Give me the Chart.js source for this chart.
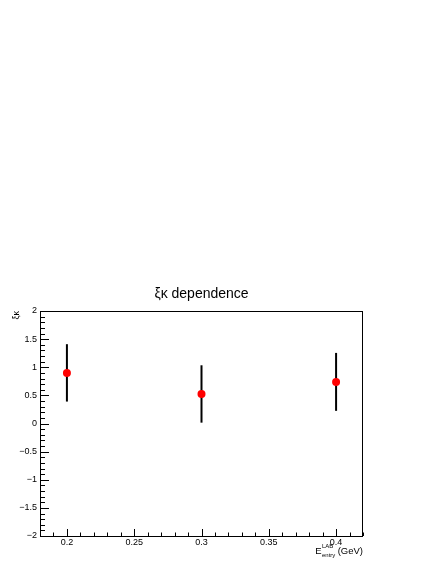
<!DOCTYPE html>
<html>
<head>
<meta charset="utf-8">
<script src="https://cdn.jsdelivr.net/npm/chart.js@4"></script>
<style>
  html, body { margin: 0; padding: 0; background: #fff; }
  canvas { display: block; }
</style>
</head>
<body>
<canvas id="xiChart" width="436" height="564"></canvas>
<script>
// measured points: E_entry (GeV), xi*kappa, symmetric error
const xValues = [0.2, 0.3, 0.4];
const yValues = [0.90, 0.525, 0.74];
const yErrors = [0.51, 0.51, 0.515];

const xTickValues = [0.2, 0.25, 0.3, 0.35, 0.4];
const yTickValues = [-2, -1.5, -1, -0.5, 0, 0.5, 1, 1.5, 2];

const FONT = "'Liberation Sans', Arial, sans-serif";

function fmt(v) {
  const s = String(Math.round(v * 100) / 100);
  return s.replace('-', '\u2212');
}

// error bars drawn under the markers
const errorBars = {
  id: 'errorBars',
  beforeDatasetsDraw(chart) {
    const ctx = chart.ctx;
    const xs = chart.scales.x, ys = chart.scales.y;
    ctx.save();
    ctx.strokeStyle = '#000';
    ctx.lineWidth = 2;
    xValues.forEach((x, i) => {
      const px = xs.getPixelForValue(x);
      ctx.beginPath();
      ctx.moveTo(px, ys.getPixelForValue(yValues[i] + yErrors[i]));
      ctx.lineTo(px, ys.getPixelForValue(yValues[i] - yErrors[i]));
      ctx.stroke();
    });
    ctx.restore();
  }
};

// ROOT style frame with inward ticks and axis titles
const rootFrame = {
  id: 'rootFrame',
  afterDraw(chart) {
    const ctx = chart.ctx;
    const a = chart.chartArea;
    const xs = chart.scales.x, ys = chart.scales.y;
    ctx.save();
    ctx.strokeStyle = '#000';
    ctx.lineWidth = 1;
    ctx.strokeRect(a.left + 0.5, a.top + 0.5, a.right - a.left - 1, a.bottom - a.top);

    ctx.beginPath();
    for (let k = -20; k <= 20; k++) {
      const py = Math.round(ys.getPixelForValue(k / 10)) + 0.5;
      const len = k % 5 === 0 ? 9 : 5;
      ctx.moveTo(a.left, py);
      ctx.lineTo(a.left + len, py);
    }
    for (let k = 18; k <= 42; k++) {
      const px = Math.round(xs.getPixelForValue(k / 100)) + 0.5;
      const len = k % 5 === 0 ? 7 : 3.5;
      ctx.moveTo(px, a.bottom);
      ctx.lineTo(px, a.bottom - len);
    }
    ctx.stroke();

    // y title
    ctx.fillStyle = '#000';
    ctx.save();
    ctx.translate(16.5, a.top);
    ctx.rotate(-Math.PI / 2);
    ctx.font = '9px ' + FONT;
    ctx.textAlign = 'right';
    ctx.textBaseline = 'middle';
    ctx.fillText('\u03BE\u03BA', 0, 0);
    ctx.restore();

    // x title: E^{LAB}_{entry} (GeV), right aligned to the frame
    const mainFont = '9.5px ' + FONT;
    const smallFont = '6px ' + FONT;
    ctx.textAlign = 'left';
    ctx.textBaseline = 'alphabetic';
    ctx.font = mainFont;
    const wE = ctx.measureText('E').width;
    const wUnit = ctx.measureText(' (GeV)').width;
    ctx.font = smallFont;
    const wScript = Math.max(ctx.measureText('LAB').width, ctx.measureText('entry').width);
    const base = 553.5;
    let x0 = a.right - wUnit - wScript - wE;
    ctx.font = mainFont;
    ctx.fillText('E', x0, base);
    ctx.font = smallFont;
    ctx.fillText('LAB', x0 + wE + 0.3, base - 6);
    ctx.fillText('entry', x0 + wE + 0.3, base + 3);
    ctx.font = mainFont;
    ctx.fillText(' (GeV)', x0 + wE + wScript, base + 0.5);
    ctx.restore();
  }
};

new Chart(document.getElementById('xiChart'), {
  type: 'scatter',
  data: {
    datasets: [{
      label: 'xi kappa',
      data: xValues.map((x, i) => ({ x: x, y: yValues[i] })),
      pointRadius: 4,
      pointHoverRadius: 4,
      pointBackgroundColor: '#ff0000',
      pointBorderWidth: 0,
      showLine: false
    }]
  },
  options: {
    responsive: false,
    animation: false,
    events: [],
    layout: { padding: { left: 0, right: 73, top: 0, bottom: 0 } },
    plugins: {
      legend: { display: false },
      tooltip: { enabled: false },
      title: {
        display: true,
        fullSize: false,
        text: '\u03BE\u03BA dependence',
        color: '#000',
        font: { family: FONT, size: 14, weight: 'normal', lineHeight: 1.2 },
        padding: { top: 286, bottom: 8.2 }
      }
    },
    scales: {
      x: {
        type: 'linear',
        min: 0.18,
        max: 0.42,
        grid: { display: false, drawTicks: false },
        border: { display: false },
        afterBuildTicks: s => { s.ticks = xTickValues.map(v => ({ value: v })); },
        afterFit: s => { s.height = 28; },
        ticks: {
          color: '#000',
          padding: 1,
          maxRotation: 0,
          font: { family: FONT, size: 9 },
          callback: v => fmt(v)
        }
      },
      y: {
        type: 'linear',
        min: -2,
        max: 2,
        grid: { display: false, drawTicks: false },
        border: { display: false },
        afterBuildTicks: s => { s.ticks = yTickValues.map(v => ({ value: v })); },
        afterFit: s => { s.width = 40; },
        ticks: {
          color: '#000',
          padding: 3,
          font: { family: FONT, size: 9 },
          callback: v => fmt(v)
        }
      }
    }
  },
  plugins: [errorBars, rootFrame]
});
</script>
</body>
</html>
